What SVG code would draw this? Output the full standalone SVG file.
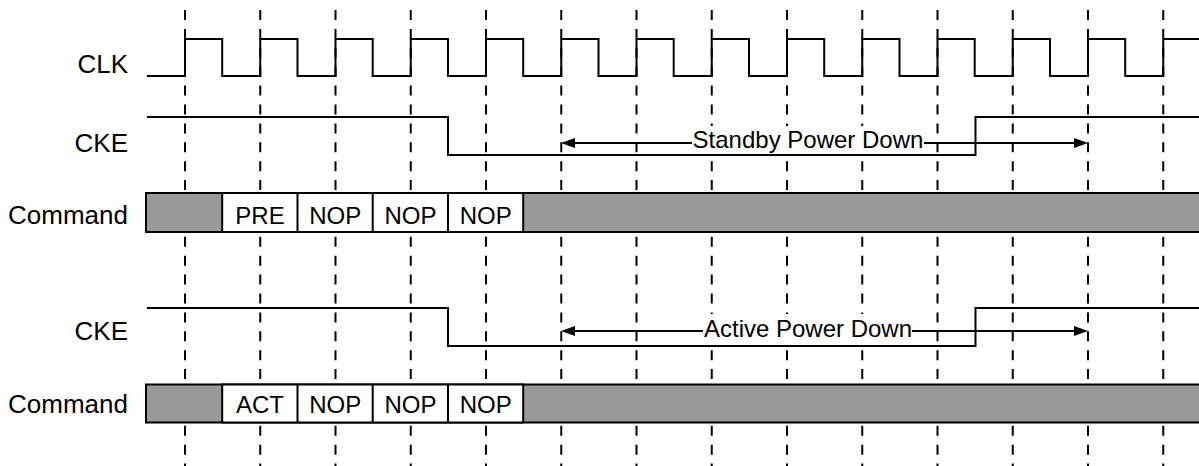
<svg xmlns="http://www.w3.org/2000/svg" width="1199" height="466" viewBox="0 0 1199 466">
<style>
.lbl{font-family:"Liberation Sans",Arial,sans-serif;font-size:26px;fill:#000;text-anchor:end}
.cell{font-family:"Liberation Sans",Arial,sans-serif;font-size:24px;fill:#000;text-anchor:middle}
.sig{fill:none;stroke:#000;stroke-width:2}
.grid line{stroke:#000;stroke-width:2;stroke-dasharray:10 8.9}
.bar{fill:#999999;stroke:#000;stroke-width:2}
.wcell{fill:#fff;stroke:#000;stroke-width:2}
.div{stroke:#000;stroke-width:2}
.arr{fill:none;stroke:#000;stroke-width:2}
.head{fill:#000}
</style>
<rect width="1199" height="466" fill="#fff"/>
<g id="grid" class="grid">
<line x1="185" y1="10" x2="185" y2="466"/>
<line x1="260.25" y1="10" x2="260.25" y2="466"/>
<line x1="335.5" y1="10" x2="335.5" y2="466"/>
<line x1="410.75" y1="10" x2="410.75" y2="466"/>
<line x1="486" y1="10" x2="486" y2="466"/>
<line x1="561.25" y1="10" x2="561.25" y2="466"/>
<line x1="636.5" y1="10" x2="636.5" y2="466"/>
<line x1="711.75" y1="10" x2="711.75" y2="466"/>
<line x1="787" y1="10" x2="787" y2="466"/>
<line x1="862.25" y1="10" x2="862.25" y2="466"/>
<line x1="937.5" y1="10" x2="937.5" y2="466"/>
<line x1="1012.75" y1="10" x2="1012.75" y2="466"/>
<line x1="1088" y1="10" x2="1088" y2="466"/>
<line x1="1163.25" y1="10" x2="1163.25" y2="466"/>
</g>
<g id="clk">
<text class="lbl" x="128" y="73">CLK</text>
<path class="sig" d="M147,76 H185 V39 H222.2 V76 H260.25 V39 H297.5 V76 H335.5 V39 H372.7 V76 H410.75 V39 H448 V76 H486 V39 H523.2 V76 H561.25 V39 H598.5 V76 H636.5 V39 H673.7 V76 H711.75 V39 H749 V76 H787 V39 H824.2 V76 H862.25 V39 H899.5 V76 H937.5 V39 H974.7 V76 H1012.75 V39 H1050 V76 H1088 V39 H1125.2 V76 H1163.25 V39 H1201"/>
</g>
<g id="cmd1">
<text class="lbl" x="128" y="224">Command</text>
<rect class="bar" x="146" y="193" width="1060" height="39"/>
<rect class="wcell" x="222.2" y="193" width="301" height="39"/>
<line class="div" x1="297.5" y1="193" x2="297.5" y2="232"/>
<line class="div" x1="372.7" y1="193" x2="372.7" y2="232"/>
<line class="div" x1="448" y1="193" x2="448" y2="232"/>
<text class="cell" x="260" y="224">PRE</text>
<text class="cell" x="335.3" y="224">NOP</text>
<text class="cell" x="410.5" y="224">NOP</text>
<text class="cell" x="485.7" y="224">NOP</text>
</g>
<g id="cmd2">
<text class="lbl" x="128" y="413">Command</text>
<rect class="bar" x="146" y="384.5" width="1060" height="38"/>
<rect class="wcell" x="222.2" y="384.5" width="301" height="38"/>
<line class="div" x1="297.5" y1="384.5" x2="297.5" y2="422.5"/>
<line class="div" x1="372.7" y1="384.5" x2="372.7" y2="422.5"/>
<line class="div" x1="448" y1="384.5" x2="448" y2="422.5"/>
<text class="cell" x="260" y="413">ACT</text>
<text class="cell" x="335.3" y="413">NOP</text>
<text class="cell" x="410.5" y="413">NOP</text>
<text class="cell" x="485.7" y="413">NOP</text>
</g>
<g id="connectors">
<g id="standby">
<rect x="691" y="126" width="234" height="27" fill="#fff"/>
<path class="arr" d="M572,143 H692 M924,143 H1077"/>
<polygon class="head" points="561,143 575,138 575,148"/>
<polygon class="head" points="1088,143 1074,138 1074,148"/>
<text class="cell" x="808" y="148">Standby Power Down</text>
</g>
<g id="active">
<rect x="702" y="314" width="212" height="29" fill="#fff"/>
<path class="arr" d="M572,331 H703 M912,331 H1077"/>
<polygon class="head" points="561,331 575,326 575,336"/>
<polygon class="head" points="1088,331 1074,326 1074,336"/>
<text class="cell" x="808" y="337">Active Power Down</text>
</g>
</g>
<g id="cke1">
<text class="lbl" x="128" y="152">CKE</text>
<path class="sig" d="M147,117 H448 V155 H975.5 V117 H1201"/>
</g>
<g id="cke2">
<text class="lbl" x="128" y="340">CKE</text>
<path class="sig" d="M147,308 H448 V346 H975.5 V308 H1201"/>
</g>
</svg>
